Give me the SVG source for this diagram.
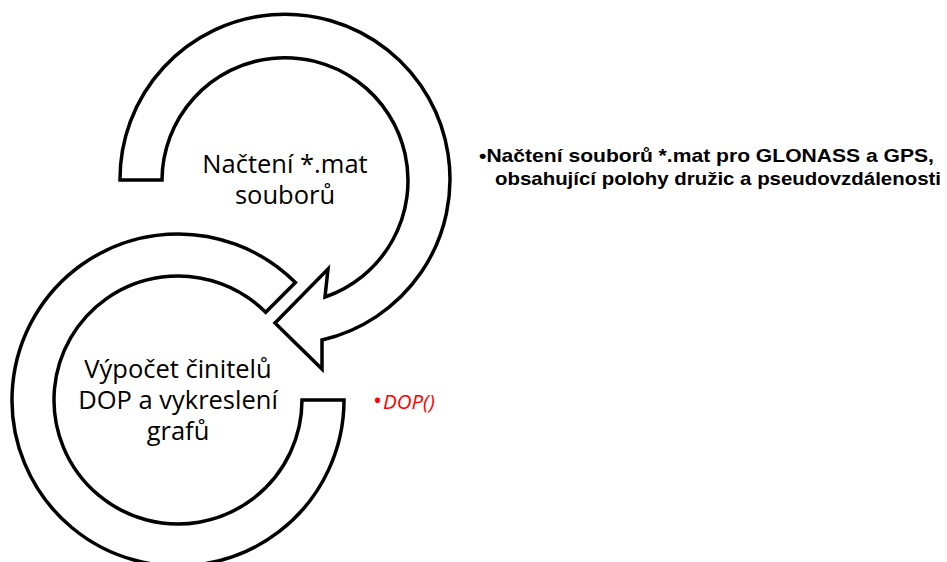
<svg xmlns="http://www.w3.org/2000/svg" width="947" height="562" viewBox="0 0 947 562">
  <style>
    .ring { fill: #ffffff; stroke: #000000; stroke-width: 3.5; stroke-linejoin: miter; }
    .label { font-family: "Open Sans", "DejaVu Sans", sans-serif; font-size: 25.5px; fill: #000000; text-anchor: middle; }
    .note { font-family: "Liberation Sans", Arial, sans-serif; font-size: 19px; font-weight: bold; fill: #000000; }
    .func { font-family: "Open Sans", "DejaVu Sans", sans-serif; font-size: 20.5px; font-style: italic; fill: #ff0000; }
  </style>
  <rect width="947" height="562" fill="#ffffff"/>

  <!-- step 2: ring around the DOP computation -->
  <g id="node-dop">
    <path class="ring" d="M 295.4,282.6 A 166 166 0 1 0 344,400 L 302,400 A 124 124 0 1 1 265.7,312.3 Z"/>
    <text class="label" x="178" y="378">Výpočet činitelů</text>
    <text class="label" x="178" y="409">DOP a vykreslení</text>
    <text class="label" x="178" y="440">grafů</text>
  </g>

  <!-- step 1: ring with arrowhead pointing into step 2 -->
  <g id="node-load">
    <path class="ring" d="M 120,180 A 165 165 0 1 1 322,340 L 322,369 L 275,323 L 328,269 L 325,297 A 123 123 0 1 0 162,180 Z"/>
    <text class="label" x="285" y="173">Načtení *.mat</text>
    <text class="label" x="285" y="204">souborů</text>
  </g>

  <!-- descriptions -->
  <g id="note-load">
    <text class="note" x="479" y="162" textLength="455" lengthAdjust="spacingAndGlyphs">•Načtení souborů *.mat pro GLONASS a GPS,</text>
    <text class="note" x="495" y="185" textLength="446" lengthAdjust="spacingAndGlyphs">obsahující polohy družic a pseudovzdálenosti</text>
  </g>
  <g id="note-dop">
    <text class="func" x="373" y="409"><tspan font-size="24px" font-style="normal">•</tspan><tspan dx="1">DOP()</tspan></text>
  </g>
</svg>
